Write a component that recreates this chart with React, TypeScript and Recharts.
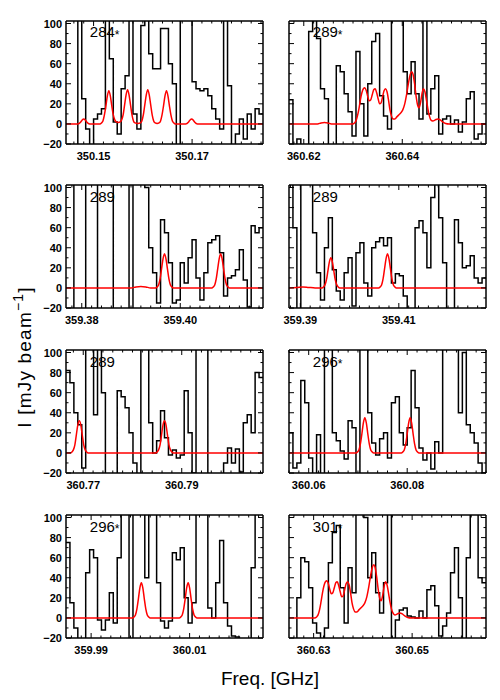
import React from 'react';
import { LineChart, Line, XAxis, YAxis } from 'recharts';

// channel width of the spectra (GHz)
const CHAN = 0.0008;
const SPAN = 0.04;

const panelLabels = ['284', '289', '289', '289', '289', '296', '296', '301'];
const panelStar = [true, true, false, false, false, true, true, true];
const panelStart = [350.1444, 360.617, 359.3768, 359.3877, 360.7665, 360.056, 359.9849, 360.625];
const xTickLabels = [
  [350.15, 350.17],
  [360.62, 360.64],
  [359.38, 359.4],
  [359.39, 359.41],
  [360.77, 360.79],
  [360.06, 360.08],
  [359.99, 360.01],
  [360.63, 360.65],
];
const yTickLabels = [-20, 0, 20, 40, 60, 80, 100];

// observed spectra, mJy/beam per channel
const flux1 = [-30, -30, -30, 120, 25, -5, -30, 5, 10, 15, 120, 65, 2, -10, 35, 48, 120, 10, -5, 98, 120, 70, 55, 55, 95, 95, 60, 40, -30, 120, 120, 120, 42, 35, 33, 35, 28, 15, 5, -5, 120, 38, -30, -10, 5, -15, 10, -5, 15, 10];
const flux2 = [24, -25, -15, -30, -30, 92, 110, 85, 35, 25, -30, -30, 58, 52, 30, 12, -12, 72, 20, -12, 40, 82, 90, 28, 8, -5, 110, 120, 120, 52, 30, 62, 30, 5, 120, 10, 35, 48, -10, 5, 8, 0, 4, -8, 2, 25, 32, -15, -10, 0];
const flux3 = [120, 120, -30, -30, -30, 120, 120, 120, -30, -30, -30, -30, 120, 120, 120, 120, -30, 120, 120, 120, 100, 40, 15, -15, 68, 55, 25, -15, -12, 25, 5, 30, 48, 10, -12, 15, 45, 48, 52, 35, -8, 10, 12, 18, 38, 8, -19, 62, 55, 60];
const flux4 = [120, 60, -30, 110, 120, 120, 55, 15, -12, 40, 70, 18, -3, -12, 15, 30, -18, 35, 45, 5, -8, 40, 46, 50, 42, 50, 5, 14, 12, -8, -25, -30, 60, 67, 55, 20, 90, 120, 70, 25, -30, -30, 68, 45, 20, 22, 32, 10, 5, 10];
const flux5 = [82, 70, 40, 28, -15, 120, 120, 38, 120, 60, -30, -30, -30, 62, 56, 45, 20, -10, -30, 120, 120, 30, 0, 12, 42, 15, -2, 3, -5, -2, 62, 20, -20, 120, 120, 120, -30, -30, -30, -30, -10, 5, -10, 4, -19, 30, 38, 20, 80, 75];
const flux6 = [20, -15, -10, 72, 50, -5, -25, 18, -25, 120, 120, 20, 12, 2, -6, 32, 25, -30, 120, 120, 40, 10, -2, 14, 20, -5, 50, 56, 20, 8, 25, 82, 45, 5, -7, 0, -16, 11, 0, 120, 120, 120, 120, 40, 100, 28, 20, 10, -10, -20];
const flux7 = [75, 15, -10, -30, -30, 45, 68, 60, -2, -12, -2, 25, -5, 60, 120, 120, -30, 120, 120, 120, 40, 120, 120, 35, -3, -10, -3, 65, 58, 70, 20, -5, 15, 120, 120, 120, 10, 0, 35, 77, 15, -8, -18, -19, -30, -30, -30, 50, 120, 120];
const flux8 = [-30, -30, 20, 60, 56, 30, -5, -15, -30, -10, 55, 85, 92, 30, -5, 50, 25, 120, 120, 100, 40, 65, 25, 5, 35, 120, -30, -2, 8, 10, 2, 1, 0, 7, 0, 28, 32, 12, -18, -8, 5, 45, 70, 20, -30, 60, 120, 120, 40, 35];

// fitted model (red), [freq GHz, mJy/beam]
const model1 = [
  [350.1444, 0], [350.1468, 0], [350.1474, 2], [350.1477, 4], [350.148, 5], [350.1483, 4], [350.1486, 2], [350.1492, 0],
  [350.1513, 0], [350.1516, 1], [350.1519, 3], [350.1522, 9], [350.1525, 18], [350.1528, 28], [350.1531, 33], [350.1534, 28], [350.1537, 18], [350.154, 9], [350.1543, 4], [350.1546, 2],
  [350.155, 1.5], [350.1554, 2], [350.1557, 4], [350.156, 9], [350.1563, 19], [350.1566, 29], [350.1569, 34], [350.1572, 29], [350.1575, 19], [350.1578, 9], [350.1581, 3], [350.1584, 1],
  [350.159, 0.5], [350.1595, 1], [350.1598, 3], [350.1601, 9], [350.1604, 19], [350.1607, 29], [350.161, 34], [350.1613, 29], [350.1616, 19], [350.1619, 9], [350.1622, 3], [350.1625, 1],
  [350.1629, 0.5], [350.1633, 1], [350.1636, 3], [350.1639, 9], [350.1642, 18], [350.1645, 28], [350.1648, 33], [350.1651, 28], [350.1654, 18], [350.1657, 9], [350.166, 3], [350.1663, 1], [350.1666, 0],
  [350.1687, 0], [350.1693, 2], [350.1696, 4], [350.1699, 5], [350.1702, 4], [350.1705, 2], [350.1711, 0], [350.1844, 0],
];
const model2 = [
  [360.617, 0], [360.6228, 0], [360.6235, 1], [360.6242, 1.5], [360.6249, 1], [360.6256, 0],
  [360.6299, 0], [360.6303, 1], [360.6306, 3], [360.6309, 8], [360.6312, 15], [360.6315, 24], [360.6318, 31], [360.6321, 35], [360.6324, 36], [360.6327, 33], [360.633, 27], [360.6333, 23],
  [360.6336, 24], [360.6339, 29], [360.6342, 34], [360.6345, 35], [360.6348, 31], [360.6351, 25], [360.6354, 20], [360.6357, 21], [360.636, 27], [360.6363, 33], [360.6366, 35], [360.6369, 32],
  [360.6372, 24], [360.6375, 14], [360.6378, 8], [360.6381, 5], [360.6385, 5], [360.6389, 7], [360.6393, 9], [360.6397, 11], [360.6401, 14], [360.6405, 20], [360.6409, 30], [360.6413, 42],
  [360.6416, 49], [360.6419, 52], [360.6422, 49], [360.6425, 40], [360.6428, 28], [360.6431, 19], [360.6434, 16], [360.6437, 21], [360.644, 30], [360.6443, 35], [360.6446, 32], [360.6449, 24],
  [360.6452, 15], [360.6455, 8], [360.6458, 4], [360.6462, 3], [360.6467, 4], [360.6472, 5], [360.6477, 4], [360.6482, 2], [360.6488, 0.5], [360.6495, 0], [360.657, 0],
];
const model3 = [
  [359.3768, 0], [359.39, 0], [359.391, 1], [359.392, 1.5], [359.393, 1], [359.394, 0],
  [359.395, 0], [359.3953, 1], [359.3956, 3], [359.3959, 9], [359.3962, 19], [359.3965, 29], [359.3968, 34], [359.3971, 29], [359.3974, 19], [359.3977, 9], [359.398, 3], [359.3983, 1], [359.3986, 0],
  [359.4064, 0], [359.4067, 1], [359.407, 3], [359.4073, 9], [359.4076, 19], [359.4079, 29], [359.4082, 34], [359.4085, 29], [359.4088, 19], [359.4091, 9], [359.4094, 3], [359.4097, 1], [359.41, 0], [359.4168, 0],
];
const model4 = [
  [359.3877, 0], [359.3893, 0.5], [359.3905, 1], [359.3917, 0.5], [359.393, 0],
  [359.3944, 0], [359.3947, 1], [359.395, 3], [359.3953, 8], [359.3956, 17], [359.3959, 26], [359.3962, 30], [359.3965, 26], [359.3968, 17], [359.3971, 8], [359.3974, 3], [359.3977, 1], [359.398, 0],
  [359.4059, 0], [359.4062, 1], [359.4065, 3], [359.4068, 9], [359.4071, 19], [359.4074, 29], [359.4077, 34], [359.408, 29], [359.4083, 19], [359.4086, 9], [359.4089, 3], [359.4092, 1], [359.4095, 0], [359.4277, 0],
];
const model5 = [
  [360.7665, 0], [360.7674, 0], [360.7677, 1], [360.768, 3], [360.7683, 8], [360.7686, 18], [360.7689, 28], [360.7692, 32], [360.7695, 28], [360.7698, 18], [360.7701, 8], [360.7704, 3], [360.7707, 1], [360.771, 0],
  [360.7847, 0], [360.785, 1], [360.7853, 3], [360.7856, 8], [360.7859, 18], [360.7862, 28], [360.7865, 32], [360.7868, 28], [360.7871, 18], [360.7874, 8], [360.7877, 3], [360.788, 1], [360.7883, 0], [360.8065, 0],
];
const model6 = [
  [360.056, 0], [360.0696, 0], [360.0699, 1], [360.0702, 3], [360.0705, 9], [360.0708, 19], [360.0711, 30], [360.0714, 35], [360.0717, 30], [360.072, 19], [360.0723, 9], [360.0726, 3], [360.0729, 1], [360.0732, 0],
  [360.0788, 0], [360.0791, 1], [360.0794, 3], [360.0797, 9], [360.08, 19], [360.0803, 30], [360.0806, 35], [360.0809, 30], [360.0812, 19], [360.0815, 9], [360.0818, 3], [360.0821, 1], [360.0824, 0], [360.096, 0],
];
const model7 = [
  [359.9849, 0], [359.9984, 0], [359.9987, 1], [359.999, 3], [359.9993, 9], [359.9996, 19], [359.9999, 30], [360.0002, 35], [360.0005, 30], [360.0008, 19], [360.0011, 9], [360.0014, 3], [360.0017, 1], [360.002, 0],
  [360.0079, 0], [360.0082, 1], [360.0085, 3], [360.0088, 9], [360.0091, 19], [360.0094, 30], [360.0097, 35], [360.01, 30], [360.0103, 19], [360.0106, 9], [360.0109, 3], [360.0112, 1], [360.0115, 0], [360.0249, 0],
];
const model8 = [
  [360.625, 0], [360.6302, 0], [360.6306, 1], [360.6309, 3], [360.6312, 8], [360.6315, 16], [360.6318, 25], [360.6321, 32], [360.6324, 36], [360.6327, 37], [360.633, 34], [360.6333, 28],
  [360.6336, 24], [360.6339, 25], [360.6342, 30], [360.6345, 35], [360.6348, 36], [360.6351, 32], [360.6354, 26], [360.6357, 21], [360.636, 22], [360.6363, 28], [360.6366, 34], [360.6369, 36],
  [360.6372, 33], [360.6375, 25], [360.6378, 15], [360.6381, 9], [360.6384, 6], [360.6388, 6], [360.6392, 8], [360.6396, 10], [360.64, 12], [360.6404, 15], [360.6408, 21], [360.6412, 31],
  [360.6416, 43], [360.6419, 50], [360.6422, 53], [360.6425, 50], [360.6428, 41], [360.6431, 29], [360.6434, 20], [360.6437, 17], [360.644, 22], [360.6443, 31], [360.6446, 36], [360.6449, 33],
  [360.6452, 25], [360.6455, 16], [360.6458, 9], [360.6461, 5], [360.6465, 3], [360.647, 4], [360.6475, 5], [360.648, 4], [360.6485, 2], [360.6491, 0.5], [360.6498, 0], [360.665, 0],
];

const fluxes = [flux1, flux2, flux3, flux4, flux5, flux6, flux7, flux8];
const models = [model1, model2, model3, model4, model5, model6, model7, model8];

const FRAME_LEFT = [66, 289];
const FRAME_TOP = [20.5, 185, 350, 515];
const PLOT_W = 197;
const PLOT_H = 123;
const Y_AXIS_W = 45;
const Y_DOMAIN: [number, number] = [-20, 102.5];

const tickFont = { fontFamily: '"Liberation Sans", Arial, sans-serif', fontWeight: 700, fontSize: 11, fill: '#000' };
const axisLine = { stroke: '#000', strokeWidth: 1.5 };

const yMinorTicks = [-20, -10, 0, 10, 20, 30, 40, 50, 60, 70, 80, 90, 100];

const near = (a: number, b: number) => Math.abs(a - b) < 1e-7;
const fmtY = (v: number) => (v < 0 ? '\u2212' + Math.abs(v) : String(v));

function xMinorTicks(x0: number, x1: number) {
  const out: number[] = [];
  for (let k = Math.ceil(x0 * 500 - 1e-6); k <= Math.floor(x1 * 500 + 1e-6); k++) out.push(k / 500);
  return out;
}

function xTick(majors: number[], side: 'bottom' | 'top') {
  return (p: any) => {
    const { x, y, payload } = p;
    const major = majors.some((m) => near(m, payload.value));
    const len = major ? 5 : 2.5;
    const dir = side === 'bottom' ? -1 : 1;
    return (
      <g>
        <line x1={x} x2={x} y1={y} y2={y + dir * len} stroke="#000" strokeWidth={1} />
        {side === 'bottom' && major && (
          <text x={x} y={y + 15.5} textAnchor="middle" style={tickFont}>
            {payload.value.toFixed(2)}
          </text>
        )}
      </g>
    );
  };
}

function yTick(side: 'left' | 'right', showLabels: boolean) {
  return (p: any) => {
    const { x, y, payload } = p;
    const major = yTickLabels.includes(payload.value);
    const len = major ? 5 : 2.5;
    const dir = side === 'left' ? 1 : -1;
    return (
      <g>
        <line x1={x} x2={x + dir * len} y1={y} y2={y} stroke="#000" strokeWidth={1} />
        {side === 'left' && showLabels && major && (
          <text x={x - 4} y={y + 4} textAnchor="end" style={tickFont}>
            {fmtY(payload.value)}
          </text>
        )}
      </g>
    );
  };
}

const Panel = ({ idx }: { idx: number }) => {
  const col = idx % 2;
  const row = Math.floor(idx / 2);
  const x0 = panelStart[idx];
  const x1 = x0 + SPAN;
  const flux = fluxes[idx];
  const spec = flux.map((v, i) => ({ f: x0 + i * CHAN, v }));
  spec.push({ f: x0 + flux.length * CHAN, v: flux[flux.length - 1] });
  const model = models[idx].map(([f, v]) => ({ f, v }));
  const xt = xMinorTicks(x0, x1);
  const majors = xTickLabels[idx];

  return (
    <div style={{ position: 'absolute', left: FRAME_LEFT[col] - Y_AXIS_W, top: FRAME_TOP[row] - 5 }}>
      <LineChart width={Y_AXIS_W + PLOT_W + 5} height={PLOT_H + 30} margin={{ top: 4, right: 4, bottom: 0, left: 0 }}>
        <XAxis xAxisId="b" dataKey="f" type="number" domain={[x0, x1]} allowDataOverflow ticks={xt} interval={0}
          tickSize={0} tickMargin={0} height={25} axisLine={axisLine} tickLine={false} tick={xTick(majors, 'bottom')} />
        <XAxis xAxisId="t" dataKey="f" orientation="top" type="number" domain={[x0, x1]} allowDataOverflow ticks={xt} interval={0}
          tickSize={0} tickMargin={0} height={1} axisLine={axisLine} tickLine={false} tick={xTick(majors, 'top')} />
        <YAxis yAxisId="l" type="number" domain={Y_DOMAIN} allowDataOverflow ticks={yMinorTicks} interval={0}
          tickSize={0} tickMargin={0} width={Y_AXIS_W} axisLine={axisLine} tickLine={false} tick={yTick('left', col === 0)} />
        <YAxis yAxisId="r" orientation="right" type="number" domain={Y_DOMAIN} allowDataOverflow ticks={yMinorTicks} interval={0}
          tickSize={0} tickMargin={0} width={1} axisLine={axisLine} tickLine={false} tick={yTick('right', false)} />
        <Line xAxisId="b" yAxisId="l" data={spec} dataKey="v" type="stepAfter" stroke="#000" strokeWidth={1.5}
          dot={false} isAnimationActive={false} />
        <Line xAxisId="b" yAxisId="l" data={model} dataKey="v" type="monotone" stroke="#ff0000" strokeWidth={1.5}
          dot={false} isAnimationActive={false} />
      </LineChart>
    </div>
  );
};

const labelFont = { fontFamily: '"Liberation Sans", Arial, sans-serif', fill: '#000' };

export default function App() {
  return (
    <div style={{ position: 'absolute', left: 0, top: 0, width: 500, height: 700, background: '#fff' }}>
      {panelLabels.map((_, i) => (
        <Panel key={i} idx={i} />
      ))}
      <svg width={500} height={700} style={{ position: 'absolute', left: 0, top: 0, pointerEvents: 'none' }}>
        {panelLabels.map((lab, i) => (
          <text key={i} x={FRAME_LEFT[i % 2] + 23.8} y={FRAME_TOP[Math.floor(i / 2)] + 16.8} fontSize={15} style={labelFont}>
            {lab}
            {panelStar[i] && <tspan fontSize={12} dy={1.5}>*</tspan>}
          </text>
        ))}
        <text transform="translate(31,357) rotate(-90)" textAnchor="middle" fontSize={19} letterSpacing={1.2} style={labelFont}>
          I [mJy beam
          <tspan fontSize={14} dy={-8}>{'\u22121'}</tspan>
          <tspan fontSize={19} dy={8}>]</tspan>
        </text>
        <text x={270} y={685} textAnchor="middle" fontSize={19} style={labelFont}>
          Freq. [GHz]
        </text>
      </svg>
    </div>
  );
}
